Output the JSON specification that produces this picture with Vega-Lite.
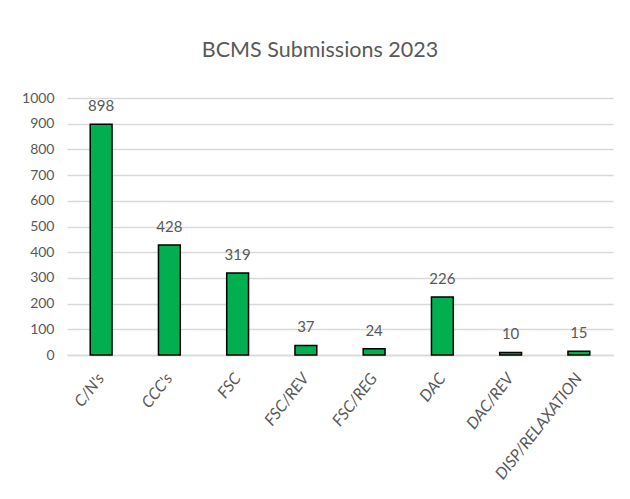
{
  "$schema": "https://vega.github.io/schema/vega-lite/v6.json",
  "autosize": "none",
  "width": 546,
  "height": 257,
  "padding": {"left": 67, "top": 98, "right": 17, "bottom": 144},
  "background": "white",
  "title": {
    "text": "BCMS Submissions  2023",
    "font": "Lato",
    "fontSize": 21.5,
    "fontWeight": "normal",
    "color": "#595959",
    "anchor": "middle",
    "dx": -20,
    "offset": 30
  },
  "data": {
    "values": [
      {"cat": "C/N's", "v": 898},
      {"cat": "CCC's", "v": 428},
      {"cat": "FSC", "v": 319},
      {"cat": "FSC/REV", "v": 37},
      {"cat": "FSC/REG", "v": 24},
      {"cat": "DAC", "v": 226},
      {"cat": "DAC/REV", "v": 10},
      {"cat": "DISP/RELAXATION", "v": 15}
    ]
  },
  "encoding": {
    "x": {
      "field": "cat",
      "type": "nominal",
      "sort": null,
      "scale": {"paddingInner": 0.68, "paddingOuter": 0.34},
      "axis": {
        "title": null,
        "labelAngle": -52,
        "labelAlign": "right",
        "labelBaseline": "middle",
        "labelFont": "Lato",
        "labelFontStyle": "italic",
        "labelFontSize": 16,
        "labelColor": "#595959",
        "labelPadding": 20,
        "ticks": false,
        "domainColor": "#D9D9D9",
        "domainWidth": 1.5
      }
    },
    "y": {
      "field": "v",
      "type": "quantitative",
      "scale": {"domain": [0, 1000]},
      "axis": {
        "title": null,
        "format": "d",
        "values": [0, 100, 200, 300, 400, 500, 600, 700, 800, 900, 1000],
        "labelFont": "Lato",
        "labelFontSize": 14,
        "labelColor": "#595959",
        "labelPadding": 13,
        "ticks": false,
        "domain": false,
        "gridColor": "#D9D9D9",
        "gridWidth": 1.5
      }
    }
  },
  "layer": [
    {
      "mark": {"type": "bar", "color": "#00B050", "stroke": "#000000", "strokeWidth": 1.5}
    },
    {
      "mark": {"type": "text", "dy": -18, "font": "Lato", "fontSize": 15, "color": "#595959"},
      "encoding": {"text": {"field": "v", "type": "quantitative"}}
    }
  ],
  "config": {"view": {"stroke": null}}
}
